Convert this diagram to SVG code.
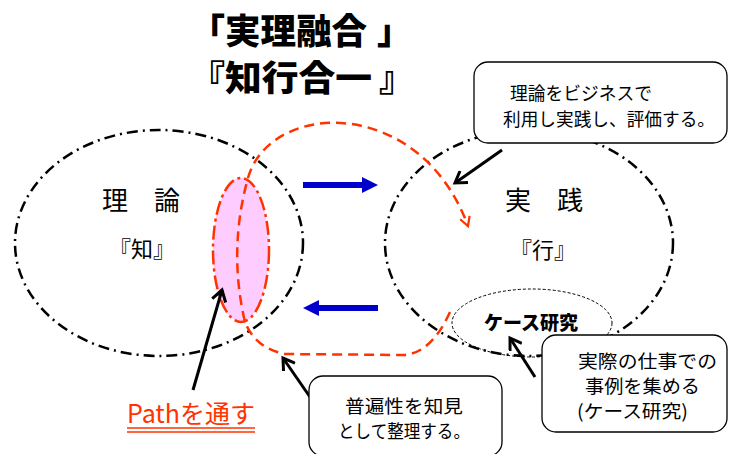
<svg xmlns="http://www.w3.org/2000/svg" width="729" height="454" viewBox="0 0 729 454">
<style>
  text { font-family: "Noto Sans CJK JP", "Noto Sans", sans-serif; fill: #000; }
  .title { font-size: 35px; font-weight: 900; }
  .big { font-size: 26px; }
  .mid { font-size: 22px; }
  .note { font-size: 18.5px; }
  .circle { fill: none; stroke: #000; stroke-width: 2.5; stroke-dasharray: 11 5 2 5; }
  .callout { fill: #fff; stroke: #000; stroke-width: 1.3; }
  .ptr { fill: none; stroke: #000; stroke-width: 3; marker-end: url(#open); }
  .blue { fill: #0000CC; }
</style>
<defs>
  <marker id="open" viewBox="0 0 16 16" refX="13" refY="8" markerWidth="16" markerHeight="16" markerUnits="userSpaceOnUse" orient="auto">
    <path d="M2,1 L13,8 L2,15" fill="none" stroke="#000" stroke-width="3"/>
  </marker>
  <marker id="redopen" viewBox="0 0 12 12" refX="10" refY="6" markerWidth="12" markerHeight="12" markerUnits="userSpaceOnUse" orient="auto">
    <path d="M1,1 L10,6 L1,11" fill="none" stroke="#FF3300" stroke-width="2.2"/>
  </marker>
</defs>

<g id="title">
  <text class="title" y="44"><tspan x="190">「</tspan><tspan x="225" textLength="142" lengthAdjust="spacingAndGlyphs">実理融合</tspan><tspan x="377">」</tspan></text>
  <text class="title" y="91"><tspan x="190">『</tspan><tspan x="225" textLength="147" lengthAdjust="spacingAndGlyphs">知行合一</tspan><tspan x="379">』</tspan></text>
</g>

<g id="theory">
  <ellipse class="circle" cx="159" cy="243" rx="144" ry="113"/>
  <text class="big" x="141" y="210" text-anchor="middle">理　論</text>
  <text class="mid" x="142" y="257" text-anchor="middle">『知』</text>
</g>

<g id="practice">
  <ellipse class="circle" cx="529" cy="243" rx="144" ry="113"/>
  <text class="big" x="544" y="210" text-anchor="middle">実　践</text>
  <text class="mid" x="543" y="258" text-anchor="middle">『行』</text>
</g>

<g id="path-ellipse">
  <ellipse cx="241" cy="250" rx="28" ry="72" fill="#FFCCFF" stroke="#FF3300" stroke-width="2.5" stroke-dasharray="14 4 3 4"/>
</g>

<g id="case-study">
  <ellipse cx="532" cy="323" rx="80" ry="34" fill="none" stroke="#000" stroke-width="1" stroke-dasharray="3 2"/>
  <text x="531" y="330" text-anchor="middle" font-size="19" font-weight="900">ケース研究</text>
</g>

<g id="connectors">
  <path d="M450,312 Q432,352 405,355 L285,354 Q255,348 245,322 Q228,250 248,178 C270,100 420,95 468,226" fill="none" stroke="#FF3300" stroke-width="2.5" stroke-dasharray="10 6" marker-end="url(#redopen)"/>
  <rect class="blue" x="303" y="182" width="62" height="6"/>
  <polygon class="blue" points="362,177 378,185 362,193"/>
  <rect class="blue" x="317" y="305" width="61" height="6"/>
  <polygon class="blue" points="319,300 303,308 319,316"/>
  <line class="ptr" x1="502" y1="150" x2="455" y2="183"/>
  <line class="ptr" x1="535" y1="377" x2="510" y2="338"/>
  <line class="ptr" x1="310" y1="397" x2="283" y2="358"/>
  <line class="ptr" x1="193" y1="390" x2="222" y2="290"/>
</g>

<g id="callout-business">
  <rect class="callout" x="474" y="62" width="253" height="81" rx="14"/>
  <text class="note" x="510" y="100" textLength="142" lengthAdjust="spacingAndGlyphs">理論をビジネスで</text>
  <text class="note" x="503" y="126" textLength="212" lengthAdjust="spacingAndGlyphs">利用し実践し、評価する。</text>
</g>

<g id="callout-cases">
  <rect class="callout" x="542" y="335" width="185" height="97" rx="14"/>
  <text class="note" x="578" y="368" textLength="139" lengthAdjust="spacingAndGlyphs">実際の仕事での</text>
  <text class="note" x="585" y="393" textLength="115" lengthAdjust="spacingAndGlyphs">事例を集める</text>
  <text class="note" x="577" y="418" textLength="111" lengthAdjust="spacingAndGlyphs">(ケース研究)</text>
</g>

<g id="callout-knowledge">
  <rect class="callout" x="309" y="376" width="193" height="80" rx="14"/>
  <text class="note" x="345" y="413" textLength="118" lengthAdjust="spacingAndGlyphs">普遍性を知見</text>
  <text class="note" x="338" y="438" textLength="132" lengthAdjust="spacingAndGlyphs">として整理する。</text>
</g>

<g id="path-label">
  <text x="127" y="423" font-size="25" style="fill:#FF3300" textLength="128" lengthAdjust="spacingAndGlyphs">Pathを通す</text>
  <line x1="127" y1="428" x2="255" y2="428" stroke="#FF3300" stroke-width="1.5"/>
  <line x1="127" y1="432" x2="255" y2="432" stroke="#FF3300" stroke-width="1.5"/>
</g>
</svg>
